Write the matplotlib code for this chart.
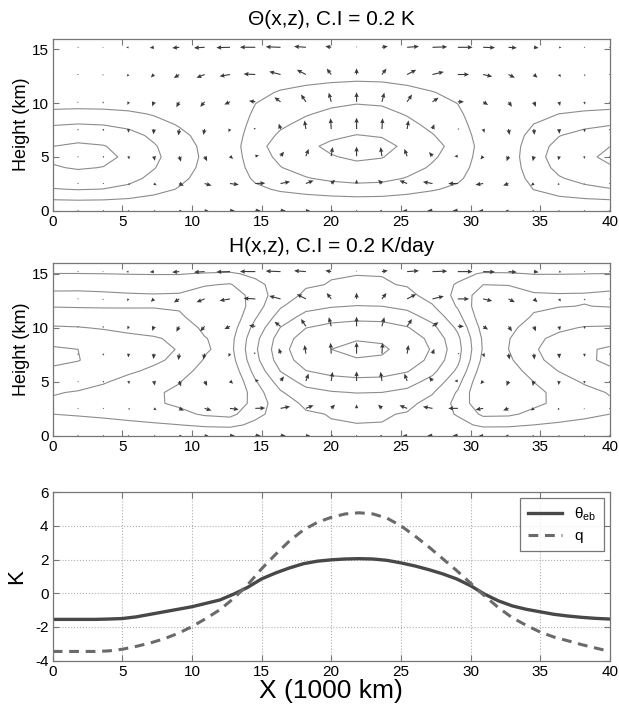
import numpy as np
import matplotlib
matplotlib.use("Agg")
import matplotlib.pyplot as plt

plt.rcParams['font.family'] = ['Liberation Sans', 'DejaVu Sans']
plt.rcParams['axes.unicode_minus'] = False
plt.rcParams['mathtext.fontset'] = 'custom'
plt.rcParams['mathtext.rm'] = 'Liberation Sans'
plt.rcParams['mathtext.it'] = 'Liberation Sans:italic'

# ---------------- grids (1000 km, km) ----------------
x_nodes = [0.00, 1.82, 3.64, 5.45, 7.27, 9.09, 10.91, 12.73, 14.55, 16.36, 18.18, 20.00,
           21.82, 23.64, 25.45, 27.27, 29.09, 30.91, 32.73, 34.55, 36.36, 38.18, 40.00]
z_nodes = [0, 1, 2, 3, 4, 5, 6, 7, 8, 9, 10, 11, 12, 13, 14, 15, 16]
z_arrow = [0.0, 2.53, 5.07, 7.6, 10.13, 12.67, 15.2]

# ---------------- Theta(x,z) ----------------
theta_x = [-0.63, -0.66, -0.64, -0.57, -0.44, -0.30, -0.17, 0.10, 0.34, 0.48, 0.57, 0.64,
           0.68, 0.66, 0.57, 0.46, 0.34, 0.13, -0.10, -0.33, -0.48, -0.57, -0.63]
theta_z_pos = [0.0, 0.22, 0.47, 0.68, 0.82, 0.92, 0.99, 0.89, 0.78, 0.68, 0.58, 0.45, 0.30,
               0.17, 0.07, 0.02, 0.0]
theta_z_neg = [0.0, 0.31, 0.62, 0.80, 0.93, 1.00, 0.95, 0.82, 0.62, 0.42, 0.18, 0.06, 0.02,
               0.0, 0.0, 0.0, 0.0]
theta_levels = [-0.6, -0.4, -0.2, 0.2, 0.4, 0.6]

# ---------------- H(x,z) ----------------
heat_mode1_z = [0, 0.20, 0.38, 0.56, 0.71, 0.83, 0.92, 0.98, 1.00, 0.98, 0.92, 0.83, 0.71,
                0.56, 0.38, 0.20, 0]
heat_mode2_z = [0, 0.38, 0.71, 0.92, 1.00, 0.92, 0.71, 0.38, 0, -0.38, -0.71, -0.92, -1.00,
                -0.92, -0.71, -0.38, 0]
heat_mode3_z = [0, 0.56, 0.92, 0.98, 0.71, 0.20, -0.38, -0.83, -1.00, -0.83, -0.38, 0.20,
                0.71, 0.98, 0.92, 0.56, 0]
heat_mode1_x = [-0.20, -0.22, -0.26, -0.31, -0.35, -0.41, -0.58, -0.66, -0.22, 0.15, 0.36, 0.43,
                0.46, 0.45, 0.38, 0.20, -0.12, -0.62, -0.60, -0.42, -0.32, -0.24, -0.20]
heat_mode2_x = [0.11, 0.10, 0.08, 0.05, 0.02, -0.01, -0.03, -0.03, 0.0, 0.0, 0.0, 0.0,
                0.0, 0.0, 0.0, 0.0, 0.0, -0.03, -0.03, -0.01, 0.03, 0.07, 0.11]
heat_mode3_x = [-0.22, -0.22, -0.21, -0.20, -0.20, -0.20, -0.20, -0.20, -0.19, -0.18, -0.17, -0.17,
                -0.17, -0.17, -0.17, -0.18, -0.19, -0.20, -0.20, -0.20, -0.21, -0.22, -0.22]
heat_levels = [-0.4, -0.2, 0.0, 0.2, 0.4, 0.6]

# ---------------- circulation (u, w) ----------------
u_x = [0.0, 0.05, 0.10, 0.20, 0.35, 0.60, 0.90, 1.15, 1.30, 1.25, 1.00, 0.50,
       0.0, -0.50, -1.00, -1.25, -1.25, -1.00, -0.70, -0.40, -0.20, -0.08, 0.0]
u_z = [0.30, 0.55, 0.20, -0.10, -0.35, -0.65, -0.85]
w_x = [-0.15, -0.15, -0.20, -0.35, -0.50, -0.60, -0.55, -0.30, 0.10, 0.50, 0.80, 1.00,
       1.05, 1.00, 0.80, 0.45, 0.0, -0.35, -0.55, -0.55, -0.45, -0.30, -0.15]
w_z = [0.0, 0.35, 0.85, 1.00, 0.85, 0.55, 0.10]

# ---------------- bottom panel ----------------
x_line = list(range(0, 41))
theta_eb = [-1.55, -1.55, -1.55, -1.55, -1.53, -1.50, -1.40, -1.25, -1.10, -0.95, -0.80,
            -0.60, -0.40, -0.05, 0.35, 0.85, 1.20, 1.50, 1.75, 1.90, 1.98, 2.03, 2.05,
            2.03, 1.95, 1.80, 1.62, 1.40, 1.15, 0.85, 0.45, -0.05, -0.45, -0.75, -0.95,
            -1.10, -1.25, -1.35, -1.43, -1.49, -1.53]
q_line = [-3.45, -3.45, -3.45, -3.45, -3.42, -3.32, -3.15, -2.95, -2.70, -2.38, -1.98,
          -1.50, -0.98, -0.30, 0.50, 1.45, 2.30, 3.10, 3.75, 4.20, 4.50, 4.70, 4.77,
          4.70, 4.45, 4.00, 3.40, 2.75, 2.05, 1.35, 0.60, -0.15, -0.85, -1.45, -1.90,
          -2.30, -2.60, -2.82, -3.05, -3.25, -3.45]

xticks = [0, 5, 10, 15, 20, 25, 30, 35, 40]
zticks = [0, 5, 10, 15]
kticks = [-4, -2, 0, 2, 4, 6]

# ---------------- build fields ----------------
X = np.array(x_nodes)
Z = np.array(z_nodes)
A = np.array(theta_x)
theta_field = np.where(A[None, :] > 0,
                       np.outer(theta_z_pos, A),
                       np.outer(theta_z_neg, A))
heat_field = (np.outer(heat_mode1_z, heat_mode1_x) + np.outer(heat_mode2_z, heat_mode2_x)
              + np.outer(heat_mode3_z, heat_mode3_x))
XA, ZA = np.meshgrid(x_nodes, z_arrow)
U = np.outer(u_z, u_x)
W = np.outer(w_z, w_x)

fig = plt.figure(figsize=(6.19, 7.05), dpi=100)
L, Wd = 0.0851, 0.900
ax1 = fig.add_axes([L, 0.7011, Wd, 0.2440])
ax2 = fig.add_axes([L, 0.3820, Wd, 0.2450])
ax3 = fig.add_axes([L, 0.0628, Wd, 0.2393])

cont_col = '#8c8c8c'
arrow_col = '#3a3a3a'
frame_col = '#777777'


def style(ax):
    for s in ax.spines.values():
        s.set_color(frame_col)
        s.set_linewidth(0.9)
    ax.tick_params(direction='in', top=True, right=True, length=4, width=0.8,
                   color=frame_col, labelsize=11, pad=3)
    ax.set_xlim(0, 40)
    ax.set_xticks(xticks)


for ax, field, levels, title, tpad in [(ax1, theta_field, theta_levels, 'Θ(x,z), C.I = 0.2 K', 10),
                                       (ax2, heat_field, heat_levels, 'H(x,z), C.I = 0.2 K/day', 8)]:
    ax.contour(X, Z, field, levels=levels, colors=cont_col, linewidths=0.8,
               linestyles='solid')
    ax.quiver(XA, ZA, U, W, angles='xy', scale_units='xy', scale=1, color=arrow_col,
              width=0.0020, headwidth=4.0, headlength=4.5, headaxislength=4.0,
              pivot='tail', zorder=3)
    style(ax)
    ax.set_ylim(0, 16)
    ax.set_yticks(zticks)
    ax.set_ylabel('Height (km)', fontsize=13, labelpad=1)
    ax.set_title(title, fontsize=15, pad=tpad)

ax3.plot(x_line, theta_eb, color='#484848', lw=2.4, label='θ$_{\\mathregular{eb}}$')
ax3.plot(x_line, q_line, color='#6a6a6a', lw=2.2, ls=(0, (3.2, 2.2)), label='q')
style(ax3)
ax3.set_ylim(-4, 6)
ax3.set_yticks(kticks)
ax3.grid(True, ls=':', color='#b0b0b0', lw=0.8)
ax3.set_ylabel('K', fontsize=16, labelpad=6)
ax3.set_xlabel('X (1000 km)', fontsize=19, labelpad=0)
leg = ax3.legend(loc='upper right', fontsize=11, handlelength=2.2, frameon=True,
                 fancybox=False, edgecolor='#555555', borderpad=0.5, labelspacing=0.4,
                 borderaxespad=0.4)
leg.get_frame().set_linewidth(0.9)

fig.savefig('out.png', dpi=100)
